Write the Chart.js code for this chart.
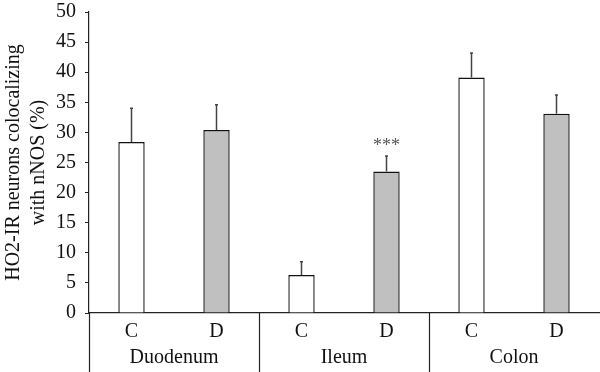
<!DOCTYPE html>
<html>
<head>
<meta charset="utf-8">
<script src="https://cdn.jsdelivr.net/npm/chart.js@4.4.0/dist/chart.umd.min.js"></script>
<style>
  html, body { margin: 0; padding: 0; background: #fff; }
</style>
</head>
<body>
<canvas id="chart" width="600" height="372"></canvas>
<script>
// 数据
const categories = ['C', 'D', 'C', 'D', 'C', 'D'];
const groups = ['Duodenum', 'Ileum', 'Colon'];
const means = [28.4, 30.4, 6.3, 23.5, 39.1, 33.1];
const errors = [5.6, 4.2, 2.2, 2.6, 4.1, 3.1];
const marks = ['', '', '', '***', '', ''];
const barColors = ['#ffffff', '#c0c0c0', '#ffffff', '#c0c0c0', '#ffffff', '#c0c0c0'];

const serif = '"Liberation Serif", "DejaVu Serif", serif';

// 误差棒 + 星号 + 分组标签
const extras = {
    id: 'extras',
    afterDatasetsDraw(chart) {
        const ctx = chart.ctx;
        const y = chart.scales.y;
        const meta = chart.getDatasetMeta(0);
        ctx.save();
        ctx.strokeStyle = '#444';
        ctx.lineWidth = 1.5;
        meta.data.forEach((bar, i) => {
            const top = y.getPixelForValue(means[i]);
            const end = y.getPixelForValue(means[i] + errors[i]);
            ctx.beginPath();
            ctx.moveTo(bar.x, top);
            ctx.lineTo(bar.x, end);
            ctx.moveTo(bar.x - 1.5, end);
            ctx.lineTo(bar.x + 1.5, end);
            ctx.stroke();
            if (marks[i]) {
                ctx.fillStyle = '#555';
                ctx.font = '18px ' + serif;
                ctx.textAlign = 'center';
                ctx.textBaseline = 'middle';
                ctx.fillText(marks[i], bar.x, end - 10);
            }
        });
        ctx.restore();
    },
    afterDraw(chart) {
        const ctx = chart.ctx;
        const x = chart.scales.x;
        const area = chart.chartArea;
        const bottom = chart.height;
        ctx.save();
        ctx.strokeStyle = '#222';
        ctx.lineWidth = 1.2;
        ctx.fillStyle = '#111';
        ctx.font = '20px ' + serif;
        ctx.textAlign = 'center';
        ctx.textBaseline = 'middle';
        groups.forEach((g, k) => {
            const left = x.getPixelForValue(2 * k - 0.5);
            const right = x.getPixelForValue(2 * k + 1.5);
            ctx.beginPath();
            ctx.moveTo(Math.round(left) + 0.5, area.bottom);
            ctx.lineTo(Math.round(left) + 0.5, bottom);
            ctx.stroke();
            ctx.fillText(g, (left + right) / 2, area.bottom + 45);
        });
        ctx.restore();
    }
};

new Chart(document.getElementById('chart'), {
    type: 'bar',
    data: {
        labels: categories,
        datasets: [{
            data: means,
            backgroundColor: barColors,
            borderColor: '#111',
            borderWidth: 1.4,
            barPercentage: 0.31,
            categoryPercentage: 1
        }]
    },
    options: {
        responsive: false,
        animation: false,
        devicePixelRatio: 1,
        layout: { padding: { top: 12, right: 1, left: 0, bottom: 0 } },
        plugins: { legend: { display: false }, tooltip: { enabled: false } },
        scales: {
            x: {
                grid: { display: false, drawTicks: false, tickLength: 0 },
                border: { display: true, color: '#222', width: 1.2 },
                ticks: { color: '#111', font: { family: serif, size: 20 }, padding: 7 },
                afterFit(scale) { scale.height = 59; }
            },
            y: {
                min: 0,
                max: 50,
                ticks: { stepSize: 5, autoSkip: false, color: '#111', font: { family: serif, size: 20, lineHeight: 1 }, padding: 9 },
                grid: { drawOnChartArea: false, drawTicks: true, tickLength: 4, color: '#222' },
                border: { display: true, color: '#222', width: 1.2 },
                title: {
                    display: true,
                    text: ['HO2-IR neurons colocalizing', 'with nNOS (%)'],
                    color: '#111',
                    font: { family: serif, size: 20, lineHeight: 1.25 },
                    padding: { top: 1, bottom: 0 }
                },
                afterFit(scale) {
                    scale.width = 89;
                    scale.paddingTop = 0;
                    scale.paddingBottom = 0;
                }
            }
        }
    },
    plugins: [extras]
});
</script>
</body>
</html>
